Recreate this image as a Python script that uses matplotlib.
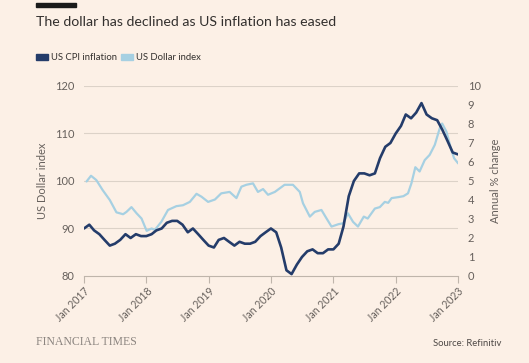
import matplotlib
matplotlib.use("Agg")
import matplotlib.pyplot as plt
import matplotlib.dates as mdates
import pandas as pd
from matplotlib.patches import Rectangle

# US CPI inflation, annual % change, monthly Jan 2017 - Jan 2023
cpi_values = [
    2.5, 2.7, 2.4, 2.2, 1.9, 1.6, 1.7, 1.9, 2.2, 2.0, 2.2, 2.1,
    2.1, 2.2, 2.4, 2.5, 2.8, 2.9, 2.9, 2.7, 2.3, 2.5, 2.2, 1.9,
    1.6, 1.5, 1.9, 2.0, 1.8, 1.6, 1.8, 1.7, 1.7, 1.8, 2.1, 2.3,
    2.5, 2.3, 1.5, 0.3, 0.1, 0.6, 1.0, 1.3, 1.4, 1.2, 1.2, 1.4,
    1.4, 1.7, 2.6, 4.2, 5.0, 5.4, 5.4, 5.3, 5.4, 6.2, 6.8, 7.0,
    7.5, 7.9, 8.5, 8.3, 8.6, 9.1, 8.5, 8.3, 8.2, 7.7, 7.1, 6.5,
    6.4,
]
cpi_dates = pd.date_range("2017-01-01", periods=len(cpi_values), freq="MS")

# US Dollar index
usd_dates = pd.to_datetime([
    "2017-01-16", "2017-02-11", "2017-03-14", "2017-04-20", "2017-06-01",
    "2017-07-10", "2017-08-18", "2017-09-07", "2017-10-06", "2017-11-05",
    "2017-12-04", "2018-01-03", "2018-02-01", "2018-02-20", "2018-03-30",
    "2018-05-08", "2018-06-26", "2018-08-04", "2018-09-13", "2018-10-22",
    "2018-11-20", "2018-12-29", "2019-02-07", "2019-03-16", "2019-05-04",
    "2019-06-13", "2019-07-12", "2019-08-10", "2019-09-18", "2019-10-17",
    "2019-11-16", "2019-12-15", "2020-01-24", "2020-03-21", "2020-05-09",
    "2020-06-18", "2020-07-07", "2020-08-16", "2020-09-14", "2020-10-23",
    "2020-11-22", "2020-12-21", "2021-01-30", "2021-02-28", "2021-03-27",
    "2021-04-26", "2021-05-25", "2021-06-28", "2021-07-21", "2021-09-01",
    "2021-09-30", "2021-10-29", "2021-11-18", "2021-12-08", "2022-01-16",
    "2022-02-15", "2022-03-14", "2022-04-03", "2022-04-26", "2022-05-21",
    "2022-06-20", "2022-07-19", "2022-08-18", "2022-09-16", "2022-09-30",
    "2022-10-25", "2022-11-20", "2022-12-09", "2023-01-02",
])
usd_values = [
    99.9, 101.1, 100.2, 98.1, 96.0,
    93.4, 93.0, 93.5, 94.5, 93.2,
    92.1, 89.5, 90.0, 89.7, 91.4,
    93.9, 94.7, 94.9, 95.6, 97.3,
    96.7, 95.6, 96.1, 97.4, 97.7,
    96.4, 98.8, 99.2, 99.5, 97.7,
    98.3, 97.1, 97.7, 99.2, 99.2,
    97.7, 95.3, 92.5, 93.5, 93.9,
    92.1, 90.4, 90.9, 91.1, 93.2,
    91.4, 90.4, 92.5, 92.1, 94.2,
    94.5, 95.6, 95.4, 96.4, 96.6,
    96.8, 97.4, 99.5, 102.9, 102.0,
    104.4, 105.5, 107.6, 111.1, 112.1,
    110.4, 106.9, 104.8, 103.7,
]

left_ticks = [80, 90, 100, 110, 120]
right_ticks = list(range(0, 11))
x_years = list(range(2017, 2024))

BG = "#FCF0E6"
NAVY = "#243c6a"
LIGHT = "#a6d0e2"
GRID = "#dcd2c8"
TXT = "#66605c"

plt.rcParams["font.family"] = ["Lato", "DejaVu Sans"]

fig = plt.figure(figsize=(5.29, 3.63), dpi=100, facecolor=BG)
ax = fig.add_axes([0.1588, 0.2397, 0.707, 0.5234])
ax.set_facecolor(BG)
ax2 = ax.twinx()

ax.plot(usd_dates, usd_values, color=LIGHT, lw=1.6, solid_joinstyle="round", solid_capstyle="round")
ax2.plot(cpi_dates, cpi_values, color=NAVY, lw=1.9, solid_joinstyle="round", solid_capstyle="round")

ax.set_xlim(pd.Timestamp("2017-01-01"), pd.Timestamp("2023-01-01"))
ax.set_ylim(80, 120)
ax2.set_ylim(0, 10)
ax.set_yticks(left_ticks)
ax2.set_yticks(right_ticks)

for t in left_ticks[1:]:
    ax.axhline(t, color=GRID, lw=0.8, zorder=0)

for a in (ax, ax2):
    for s in ("left", "right", "top"):
        a.spines[s].set_visible(False)
ax.spines["bottom"].set_color("#bfb5ab")
ax2.spines["bottom"].set_visible(False)

ax.set_xticks([pd.Timestamp(f"{y}-01-01") for y in x_years])
ax.xaxis.set_major_formatter(mdates.DateFormatter("Jan %Y"))
ax.tick_params(axis="x", colors="#bfb5ab", labelcolor=TXT, length=5, width=0.8, labelsize=7.6, pad=2)
for lbl in ax.get_xticklabels():
    lbl.set_rotation(45)
    lbl.set_ha("right")
    lbl.set_rotation_mode("anchor")

ax.tick_params(axis="y", length=0, labelsize=8, labelcolor=TXT, pad=7)
ax2.tick_params(axis="y", length=0, labelsize=8, labelcolor=TXT, pad=7)
ax.set_ylabel("US Dollar index", fontsize=8, color=TXT, labelpad=5)
ax2.set_ylabel("Annual % change", fontsize=8, color=TXT, labelpad=7)

# header
fig.patches.append(Rectangle((36 / 529, 1 - 7 / 363), 40 / 529, 3.5 / 363,
                             transform=fig.transFigure, color="#1a1a1a"))
fig.text(36 / 529, 1 - 22 / 363, "The dollar has declined as US inflation has eased",
         fontsize=10.2, color="#33302e", va="center", ha="left")

# legend
fig.patches.append(Rectangle((36 / 529, 1 - 60 / 363), 12 / 529, 6 / 363,
                             transform=fig.transFigure, color=NAVY))
fig.text(51 / 529, 1 - 57 / 363, "US CPI inflation", fontsize=6.8, color="#33302e", va="center")
fig.patches.append(Rectangle((121 / 529, 1 - 60 / 363), 12 / 529, 6 / 363,
                             transform=fig.transFigure, color=LIGHT))
fig.text(136 / 529, 1 - 57 / 363, "US Dollar index", fontsize=6.8, color="#33302e", va="center")

# footer
fig.text(36 / 529, 1 - 342 / 363, "FINANCIAL TIMES", fontsize=8.5, color="#8c8580",
         family=["Liberation Serif", "DejaVu Serif"], va="center")
fig.text(501 / 529, 1 - 343 / 363, "Source: Refinitiv", fontsize=6.8, color="#4d4845",
         ha="right", va="center")

fig.savefig("out.png", dpi=100, facecolor=BG)
